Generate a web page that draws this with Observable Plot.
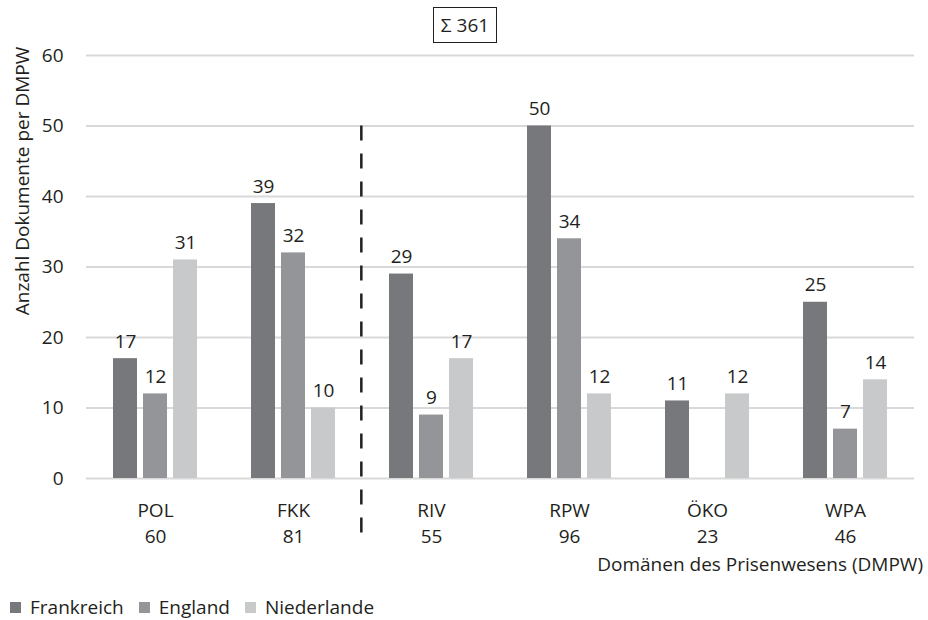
<!DOCTYPE html>
<html><head><meta charset="utf-8">
<script src="https://cdn.jsdelivr.net/npm/d3@7"></script>
<script src="https://cdn.jsdelivr.net/npm/@observablehq/plot@0.6"></script>
<style>
body{margin:0;background:#fff;font-family:"Open Sans",sans-serif;color:#231f20;}
#wrap{position:relative;width:928px;height:620px;}
#sum{position:absolute;left:433px;top:7px;width:62px;height:34px;border:1px solid #231f20;font-size:19px;line-height:34px;text-align:center;}
#legend{position:absolute;left:10px;top:594px;height:26px;font-size:19px;line-height:26px;display:flex;align-items:center;}
#legend span.sw{display:inline-block;width:11px;height:11px;margin-right:9px;}
#legend span.it{display:inline-flex;align-items:center;margin-right:15px;}
</style></head>
<body><div id="wrap"><div id="chart"></div><div id="sum"></div><div id="legend"></div></div>
<script>
const domains = ["POL","FKK","RIV","RPW","ÖKO","WPA"];
const countries = ["Frankreich","England","Niederlande"];
const frankreich = [17,39,29,50,11,25];
const england = [12,32,9,34,0,7];
const niederlande = [31,10,17,12,12,14];
const colors = ["#77787b","#949598","#c8c9cb"];
const yTicks = [0,10,20,30,40,50,60];
const yTitle = "Anzahl Dokumente per DMPW";
const xTitle = "Domänen des Prisenwesens (DMPW)";

const series = [frankreich, england, niederlande];
const data = [];
domains.forEach((d,i)=>countries.forEach((c,j)=>data.push({domain:d,country:c,value:series[j][i]})));
const totals = new Map(domains.map((d,i)=>[d, d3.sum(series, s=>s[i])]));

const plot = Plot.plot({
  width: 928, height: 580,
  marginLeft: 84, marginRight: 12, marginTop: 55, marginBottom: 102,
  style: {fontFamily: '"Open Sans", sans-serif', fontSize: "19px", color: "#231f20", background: "white"},
  facet: {data: data, x: "domain"},
  fx: {domain: domains, padding: 0, axis: null},
  x: {domain: countries, paddingInner: 0.216, paddingOuter: 0.845, axis: null},
  y: {domain: [0,60], ticks: yTicks, tickSize: 0, tickPadding: 23, label: null},
  color: {domain: countries, range: colors},
  marks: [
    Plot.ruleY(yTicks, {stroke: "#d9d9d9", strokeWidth: 2, facet: null}),
    Plot.barY(data, {x: "country", y: "value", fill: "country"}),
    Plot.text(data, {filter: d => d.value > 0, x: "country", y: "value", text: "value", dy: -17, fill: "#231f20"}),
    Plot.text(data, {filter: d => d.country === countries[1], x: "country", frameAnchor: "bottom",
      text: d => `${d.domain}\n${totals.get(d.domain)}`, lineAnchor: "top", lineHeight: 1.37, dy: 20, fill: "#231f20"})
  ]
});
document.getElementById("chart").appendChild(plot);

// scales from the plot
const fxs = plot.scale("fx"), ys = plot.scale("y");
const fx = d3.scaleBand(fxs.domain, fxs.range).padding(0);
const y = d3.scaleLinear(ys.domain, ys.range);
const svg = d3.select(plot);
// dashed separator between FKK and RIV
const sepX = fx("RIV");
svg.append("line")
  .attr("x1", sepX).attr("x2", sepX).attr("y1", y(50)).attr("y2", y(-8.3))
  .attr("stroke", "#231f20").attr("stroke-width", 2.5).attr("stroke-dasharray", "15,13");
// axis titles
svg.append("text").text(yTitle)
  .attr("transform", "translate(22,181) rotate(-90)")
  .attr("text-anchor", "middle").attr("dominant-baseline", "central")
  .attr("fill", "#231f20").style("font-size", "19px");
svg.append("text").text(xTitle)
  .attr("x", 923).attr("y", 564)
  .attr("text-anchor", "end").attr("dominant-baseline", "central")
  .attr("fill", "#231f20").style("font-size", "19px");

document.getElementById("sum").textContent = "Σ " + d3.sum(data, d=>d.value);
const lg = d3.select("#legend");
countries.forEach((c,i)=>{
  const it = lg.append("span").attr("class","it");
  it.append("span").attr("class","sw").style("background", colors[i]);
  it.append("span").text(c);
});
</script></body></html>
